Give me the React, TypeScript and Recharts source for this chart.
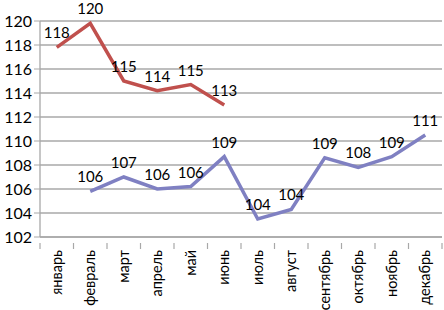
import { LineChart, Line, XAxis, YAxis, CartesianGrid, LabelList } from "recharts";

const MONTHS = [
  "январь",
  "февраль",
  "март",
  "апрель",
  "май",
  "июнь",
  "июль",
  "август",
  "сентябрь",
  "октябрь",
  "ноябрь",
  "декабрь",
];
const RED_SERIES = [117.8, 119.8, 115, 114.2, 114.7, 113, null, null, null, null, null, null];
const BLUE_SERIES = [null, 105.8, 107, 106, 106.2, 108.7, 103.5, 104.3, 108.6, 107.8, 108.7, 110.5];
const Y_TICKS = [102, 104, 106, 108, 110, 112, 114, 116, 118, 120];

const data = MONTHS.map((m, i) => ({ month: m, red: RED_SERIES[i], blue: BLUE_SERIES[i] }));

const FONT = "Lato, 'Open Sans', sans-serif";
const GRID = "#a8a8a8";
const STEP = 33.5;

const fmt = (v: any) => (v == null ? "" : String(Math.round(v)));

function MonthTick(props: any) {
  const { x, y, payload, index } = props;
  const half = STEP / 2;
  return (
    <g>
      <line x1={x - half} y1={y - 7} x2={x - half} y2={y - 1} stroke={GRID} strokeWidth={1.2} />
      {index === MONTHS.length - 1 && (
        <line x1={x + half} y1={y - 7} x2={x + half} y2={y - 1} stroke={GRID} strokeWidth={1.2} />
      )}
      <text
        x={x}
        y={y}
        transform={`rotate(-90 ${x} ${y})`}
        textAnchor="end"
        dy="0.35em"
        fontSize={14.5}
        fontFamily={FONT}
        fill="#000"
      >
        {payload.value}
      </text>
    </g>
  );
}

export default function App() {
  return (
    <div style={{ position: "absolute", left: 0, top: 0, background: "#fff" }}>
      <LineChart width={444} height={310} data={data} margin={{ top: 21, right: 2, left: 0, bottom: 0 }}>
        <CartesianGrid vertical={false} stroke={GRID} strokeWidth={1.3} />
        <XAxis
          dataKey="month"
          interval={0}
          height={73}
          padding={{ left: STEP / 2, right: STEP / 2 }}
          axisLine={{ stroke: GRID, strokeWidth: 1.3 }}
          tickLine={false}
          tick={<MonthTick />}
          tickMargin={7}
        />
        <YAxis
          domain={[102, 120]}
          ticks={Y_TICKS}
          width={40}
          axisLine={{ stroke: GRID, strokeWidth: 1.3 }}
          tickLine={{ stroke: GRID }}
          tickSize={6}
          tickMargin={2}
          tick={{ fontSize: 16, fontFamily: FONT, fill: "#000" }}
        />
        <Line
          dataKey="red"
          stroke="#c0504d"
          strokeWidth={3.5}
          dot={false}
          isAnimationActive={false}
          strokeLinejoin="miter"
        >
          <LabelList dataKey="red" position="top" offset={9} formatter={fmt} style={{ fontSize: 15, fontFamily: FONT, fill: "#000" }} />
        </Line>
        <Line
          dataKey="blue"
          stroke="#7f80c2"
          strokeWidth={3.5}
          dot={false}
          isAnimationActive={false}
          strokeLinejoin="miter"
        >
          <LabelList dataKey="blue" position="top" offset={9} formatter={fmt} style={{ fontSize: 15, fontFamily: FONT, fill: "#000" }} />
        </Line>
      </LineChart>
    </div>
  );
}
